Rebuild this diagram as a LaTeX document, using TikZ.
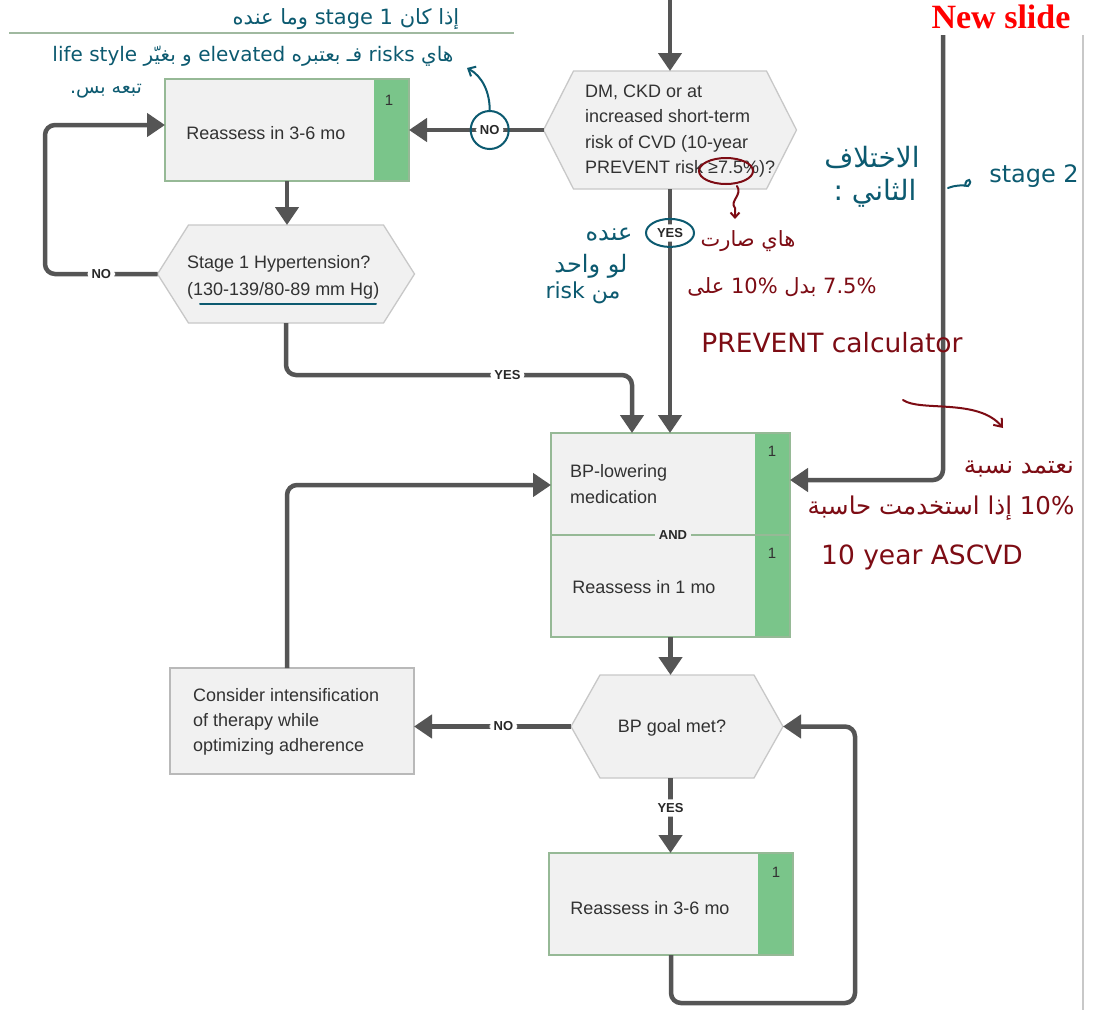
\documentclass[tikz,border=0pt]{standalone}
\usepackage{fontspec}
\setmainfont{Liberation Sans}
\newfontfamily\arabicfont[Script=Arabic]{DejaVu Sans}
\newfontfamily\titlefont{Liberation Serif}
\TeXXeTstate=1
\usetikzlibrary{arrows.meta}

\definecolor{flowgray}{RGB}{85,85,85}
\definecolor{labeltext}{RGB}{40,40,40}
\definecolor{textdark}{RGB}{50,50,50}
\definecolor{boxfill}{RGB}{241,241,241}
\definecolor{boxline}{RGB}{150,185,150}
\definecolor{hexline}{RGB}{200,200,200}
\definecolor{consline}{RGB}{185,185,185}
\definecolor{stripgreen}{RGB}{122,197,138}
\definecolor{inkteal}{RGB}{12,90,112}
\definecolor{inkred}{RGB}{125,12,20}
\definecolor{topline}{RGB}{160,185,160}
\definecolor{pageline}{RGB}{200,200,200}

% hexagonal decision shape: name, centre x, centre y, width, height, inset
\newcommand\hexnode[6]{%
  \path[hexshape] ({#2-#4/2},#3) -- ({#2-#4/2+#6},{#3-#5/2}) -- ({#2+#4/2-#6},{#3-#5/2})
    -- ({#2+#4/2},#3) -- ({#2+#4/2-#6},{#3+#5/2}) -- ({#2-#4/2+#6},{#3+#5/2}) -- cycle;
  \node[hexanchor, minimum width=#4pt, minimum height=#5pt] (#1) at (#2,#3) {};}

% green class-of-recommendation strip on the right of a box
\newcommand\stripbox[1]{%
  \fill[stripgreen] ([xshift=-35pt]#1.north east) rectangle (#1.south east);
  \draw[boxline, line width=1.3pt] (#1.north west) rectangle (#1.south east);}

\begin{document}
\begin{tikzpicture}[x=1pt,y=-1pt,
  flow/.style={draw=flowgray, line width=4.5pt, rounded corners=10pt,
    -{Triangle[length=18pt,width=23pt]}},
  lbl/.style={fill=white, text=labeltext, font=\bfseries\fontsize{13}{13}\selectfont, inner sep=4pt},
  box/.style={rectangle, draw=boxline, line width=1.3pt, fill=boxfill, inner sep=0pt, outer sep=0pt},
  plainbox/.style={rectangle, draw=consline, line width=1.3pt, fill=boxfill, inner sep=0pt, outer sep=0pt},
  hexshape/.style={draw=hexline, line width=1.3pt, fill=boxfill},
  hexanchor/.style={rectangle, draw=none, inner sep=0pt, outer sep=0pt},
  bodytext/.style={text=textdark, font=\fontsize{18}{25}\selectfont, inner sep=0pt, align=left},
  numtag/.style={text=textdark, font=\fontsize{15}{15}\selectfont, inner sep=0pt},
  annteal/.style={draw=inkteal, line width=2pt, line cap=round},
  annred/.style={draw=inkred, line width=2pt, line cap=round},
  hwteal/.style={text=inkteal, inner sep=0pt, font=\arabicfont\fontsize{20}{22}\selectfont},
  hwred/.style={text=inkred, inner sep=0pt, font=\arabicfont\fontsize{21}{24}\selectfont}]

\useasboundingbox (0,0) rectangle (1098,1010);
\fill[white] (0,0) rectangle (1098,1010);

% page furniture
\draw[topline, line width=1.2pt] (9,33) -- (514,33);
\draw[pageline, line width=1.5pt] (1083,35) -- (1083,1010);
\node[anchor=base, text=red, inner sep=0pt, font=\titlefont\bfseries\fontsize{34}{34}\selectfont] (newslide) at (1001,28) {New slide};

% ---------- boxes ----------
\hexnode{q1}{670}{130}{253}{118}{30}
\node[bodytext, anchor=west, font=\fontsize{18}{25.5}\selectfont] (q1t) at (585,131)
  {DM, CKD or at\\increased short-term\\risk of CVD (10-year\\PREVENT risk ≥7.5\%)?};

\node[box, minimum width=244pt, minimum height=102pt] (r1) at (287,130) {};
\stripbox{r1}
\node[bodytext] (r1t) at (266,133) {Reassess in 3-6 mo};
\node[numtag] (r1n) at (389,100) {1};

\hexnode{q2}{286}{274}{257}{98}{31}
\node[bodytext, anchor=west, font=\fontsize{18}{27}\selectfont] (q2t) at (187,277)
  {Stage 1 Hypertension?\\(130-139/80-89 mm Hg)};

\node[box, minimum width=239pt, minimum height=204pt] (bp) at (670.5,535) {};
\stripbox{bp}
\draw[boxline, line width=1.3pt] (bp.west) -- (bp.east);
\node[lbl, fill=boxfill] (andl) at ([xshift=2.5pt]bp.center) {AND};
\node[bodytext, anchor=west, font=\fontsize{18}{26}\selectfont] (bpa) at (570,484) {BP-lowering\\medication};
\node[bodytext] (bpb) at (644,587) {Reassess in 1 mo};
\node[numtag] (bpn1) at (772,451) {1};
\node[numtag] (bpn2) at (772,553) {1};

\hexnode{q3}{677}{726.5}{212}{103}{29}
\node[bodytext] (q3t) at (672,728) {BP goal met?};

\node[plainbox, minimum width=244pt, minimum height=106pt] (cons) at (292,721) {};
\node[bodytext, anchor=west] (const) at (193,722)
  {Consider intensification\\of therapy while\\optimizing adherence};

\node[box, minimum width=244pt, minimum height=102pt] (r3) at (671,904) {};
\stripbox{r3}
\node[bodytext] (r3t) at (650,908) {Reassess in 3-6 mo};
\node[numtag] (r3n) at (776,872) {1};

% ---------- connectors ----------
\coordinate (topin) at (670,0);
\coordinate (rtop) at (943,35);
\coordinate (loopl) at (45,274);
\coordinate (yesbend) at (632,375);
\coordinate (loopb) at (855,1003);

\draw[flow] (topin) -- (q1.north);
\draw[flow] (q1.west) -- node[lbl, pos=0.4] (noA) {NO} (r1.east);
\draw[flow] (r1.south) -- (r1.south |- q2.north);
\draw[flow] (q2.west) -- node[lbl] {NO} (loopl) |- ([yshift=5pt]r1.west);
\draw[flow] (q2.south) |- node[lbl, pos=0.82] {YES} (yesbend) -- ([xshift=-38.5pt]bp.north);
\draw[flow] (q1.south) -- node[lbl, pos=0.18] (yesA) {YES} (q1.south |- bp.north);
\draw[flow] (rtop) |- ([yshift=55pt]bp.east);
\draw[flow] ([xshift=-5pt]cons.north) |- ([yshift=50pt]bp.west);
\draw[flow] (bp.south) -- (bp.south |- q3.north);
\draw[flow] (q3.west) -- node[lbl, pos=0.43] {NO} (q3.west -| cons.east);
\draw[flow] (bp.south |- q3.south) -- node[lbl, pos=0.4] {YES} (bp.south |- r3.north);
\draw[flow] (r3.south) |- (loopb) |- (q3.east);

% ---------- handwritten notes (teal) ----------
\draw[annteal] (noA) circle (19pt);
\draw[annteal] (yesA) ellipse (24pt and 14pt);
\draw[annteal, -{Straight Barb[length=6pt,width=11pt]}] ([yshift=19pt]noA.center)
  .. controls (490,92) and (482,76) .. (467,68);
\draw[annteal] (200,304) -- (376,304);

\node[hwteal, font=\arabicfont\fontsize{21}{22}\selectfont] (t1) at (346,19) {\beginR إذا كان \beginL stage 1\endL{} وما عنده\endR};
\node[hwteal] (t2) at (253,56) {\beginR هاي \beginL risks\endL{} فـ بعتبره \beginL elevated\endL{} و بغيّر \beginL life style\endL\endR};
\node[hwteal, font=\arabicfont\fontsize{19}{22}\selectfont] (t3) at (106,91) {\beginR تبعه بس.\endR};

\node[hwteal, font=\arabicfont\fontsize{24}{26}\selectfont] (t4) at (609,235) {\beginR عنده\endR};
\node[hwteal, font=\arabicfont\fontsize{24}{26}\selectfont] (t5) at (591,266) {\beginR لو واحد\endR};
\node[hwteal, font=\arabicfont\fontsize{22}{26}\selectfont] (t6) at (583,293) {\beginR من \beginL risk\endL\endR};

\node[hwteal, font=\arabicfont\fontsize{28}{30}\selectfont] (t7) at (872,157) {\beginR الاختلاف\endR};
\node[hwteal, font=\arabicfont\fontsize{28}{30}\selectfont] (t8) at (875,193) {\beginR الثاني :\endR};
\node[hwteal, font=\arabicfont\fontsize{24}{26}\selectfont] (t9) at (1034,176) {stage 2};
\draw[annteal] (948,188) .. controls (956,185) and (962,185) .. (968,186)
  .. controls (974,180) and (966,176) .. (965,186);

% ---------- handwritten notes (dark red) ----------
\draw[annred] (726,171) ellipse (27pt and 13pt);
\draw[annred, -{Straight Barb[length=5pt,width=9pt]}] (737,186)
  .. controls (743,195) and (729,201) .. (735,208) -- (735,219);
\node[hwred] (h1) at (748,241) {\beginR هاي صارت\endR};
\node[hwred] (h2) at (782,287) {\beginR \beginL 7.5\%\endL{} بدل \beginL 10\%\endL{} على\endR};
\node[hwred, font=\arabicfont\fontsize{26.5}{28}\selectfont] (h3) at (832,343) {PREVENT calculator};
\draw[annred, -{Straight Barb[length=7pt,width=11pt]}] (903,400)
  .. controls (920,412) and (978,398) .. (1003,428);
\node[hwred, font=\arabicfont\fontsize{24.5}{26}\selectfont] (h4) at (1019,469) {\beginR نعتمد نسبة\endR};
\node[hwred, font=\arabicfont\fontsize{24.5}{26}\selectfont] (h5) at (941,508) {\beginR \beginL 10\%\endL{} إذا استخدمت حاسبة\endR};
\node[hwred, font=\arabicfont\fontsize{26.5}{28}\selectfont] (h6) at (922,557) {10 year ASCVD};

\end{tikzpicture}
\end{document}
